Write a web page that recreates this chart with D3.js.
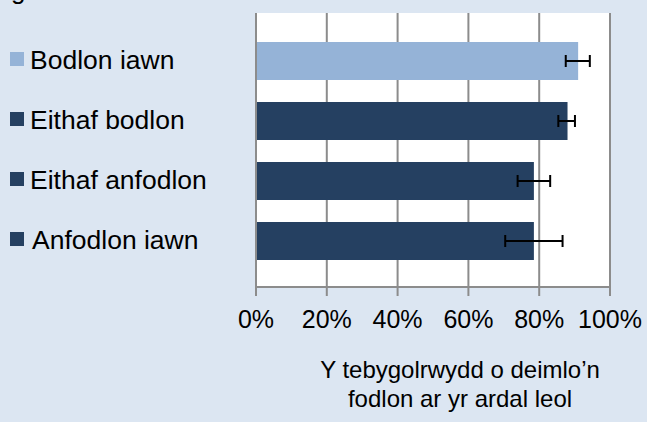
<!DOCTYPE html>
<html>
<head>
<meta charset="utf-8">
<script src="https://cdn.jsdelivr.net/npm/d3@7"></script>
<style>
  html, body { margin: 0; padding: 0; background: #dce6f2; }
  svg { display: block; font-family: "Liberation Sans", Arial, sans-serif; }
</style>
</head>
<body>
<svg id="canvas" width="647" height="422"></svg>
<script>
const categories = ["Bodlon iawn", "Eithaf bodlon", "Eithaf anfodlon", "Anfodlon iawn"]
const values = [0.91, 0.88, 0.785, 0.785]
const errLow = [0.875, 0.854, 0.739, 0.704]
const errHigh = [0.943, 0.901, 0.831, 0.866]
const barColors = ["#95b3d7", "#254061", "#254061", "#254061"]
const tickValues = [0, 0.2, 0.4, 0.6, 0.8, 1]
const titleLines = ["Y tebygolrwydd o deimlo\u2019n", "fodlon ar yr ardal leol"]

const svg = d3.select("#canvas")
const W = 647, H = 422

svg.append("rect").attr("width", W).attr("height", H).attr("fill", "#dce6f2")

// plot frame
const plot = { left: 256, right: 610, top: 13, bottom: 287 }

const x = d3.scaleLinear().domain([0, 1]).range([plot.left, plot.right])
const y = d3.scaleBand().domain(categories).range([31, 271])
  .paddingInner(0.3667).paddingOuter(0.1833)

svg.append("rect")
  .attr("x", plot.left).attr("y", plot.top)
  .attr("width", plot.right - plot.left).attr("height", plot.bottom - plot.top)
  .attr("fill", "#ffffff")

// cut-off heading at very top
svg.append("text").attr("x", 11).attr("y", -1)
  .attr("font-size", 26).attr("fill", "#000").text("g")

// gridlines + ticks
const grid = svg.append("g")
grid.selectAll("line")
  .data(tickValues)
  .enter().append("line")
  .attr("x1", d => x(d)).attr("x2", d => x(d))
  .attr("y1", plot.top).attr("y2", plot.bottom + 9)
  .attr("stroke", "#8c8c8c").attr("stroke-width", 2)

grid.append("line")
  .attr("x1", plot.left).attr("x2", plot.right)
  .attr("y1", plot.bottom).attr("y2", plot.bottom)
  .attr("stroke", "#8c8c8c").attr("stroke-width", 2)

// bars
svg.append("g").selectAll("rect")
  .data(categories)
  .enter().append("rect")
  .attr("x", x(0) + 1)
  .attr("y", d => y(d))
  .attr("width", (d, i) => x(values[i]) - x(0) - 1)
  .attr("height", y.bandwidth())
  .attr("fill", (d, i) => barColors[i])

// error bars
const eb = svg.append("g").attr("stroke", "#000").attr("stroke-width", 2)
categories.forEach(function(c, i) {
  const cy = y(c) + y.bandwidth() / 2
  eb.append("line").attr("x1", x(errLow[i])).attr("x2", x(errHigh[i]))
    .attr("y1", cy).attr("y2", cy)
  eb.append("line").attr("x1", x(errLow[i])).attr("x2", x(errLow[i]))
    .attr("y1", cy - 6).attr("y2", cy + 6)
  eb.append("line").attr("x1", x(errHigh[i])).attr("x2", x(errHigh[i]))
    .attr("y1", cy - 6).attr("y2", cy + 6)
})

// tick labels
svg.append("g").selectAll("text")
  .data(tickValues)
  .enter().append("text")
  .attr("x", d => x(d)).attr("y", 328)
  .attr("text-anchor", "middle")
  .attr("font-size", 25).attr("fill", "#000")
  .text(d => d3.format(".0%")(d))

// legend-like category labels
const leg = svg.append("g")
categories.forEach(function(c, i) {
  const cy = y(c) + y.bandwidth() / 2
  leg.append("rect").attr("x", 10).attr("y", cy - 9)
    .attr("width", 14).attr("height", 14).attr("fill", barColors[i])
  leg.append("text").attr("x", i === 3 ? 32 : 30).attr("y", cy + 8)
    .attr("font-size", 26.5).attr("fill", "#000").text(c)
})

// axis title
svg.append("g").selectAll("text")
  .data(titleLines)
  .enter().append("text")
  .attr("x", 460).attr("y", (d, i) => 378 + i * 28.5)
  .attr("text-anchor", "middle")
  .attr("font-size", 24).attr("fill", "#000")
  .text(d => d)
</script>
</body>
</html>
